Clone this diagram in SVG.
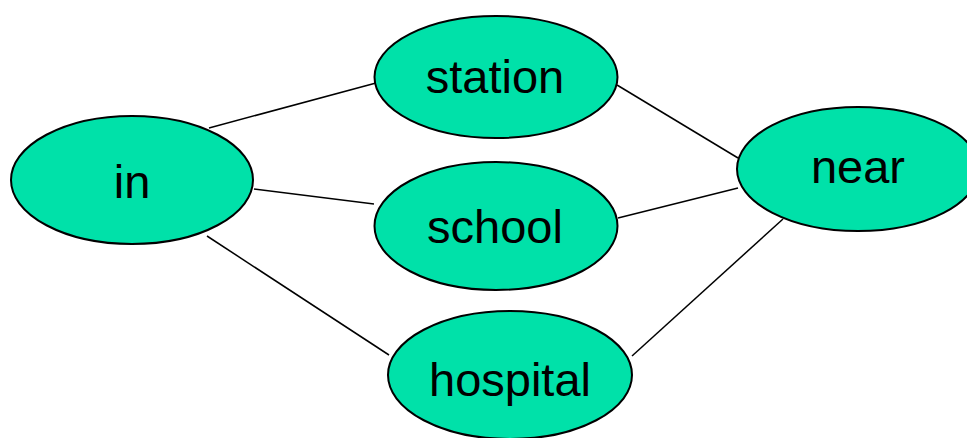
<svg xmlns="http://www.w3.org/2000/svg" width="967" height="438" viewBox="0 0 967 438">
  <style>
    .node ellipse { fill: #00e1a9; stroke: #000; stroke-width: 2; }
    .node text { font-family: "Liberation Sans", Arial, sans-serif; font-size: 47px; fill: #000; text-anchor: middle; }
    .edges line { stroke: #000; stroke-width: 1.5; }
  </style>
  <rect width="967" height="438" fill="#fff"/>
  <g id="edges" class="edges">
    <line x1="209" y1="128" x2="376" y2="83"/>
    <line x1="254" y1="189" x2="374" y2="204"/>
    <line x1="207" y1="236" x2="389" y2="355"/>
    <line x1="617" y1="85" x2="738" y2="158"/>
    <line x1="618" y1="218" x2="738" y2="188"/>
    <line x1="632" y1="356" x2="783" y2="219"/>
  </g>
  <g id="in" class="node">
    <ellipse cx="132" cy="180" rx="121" ry="64"/>
    <text x="132" y="198">in</text>
  </g>
  <g id="station" class="node">
    <ellipse cx="496" cy="77" rx="121.5" ry="61"/>
    <text x="495" y="93">station</text>
  </g>
  <g id="school" class="node">
    <ellipse cx="496" cy="226" rx="121.5" ry="64"/>
    <text x="495" y="243">school</text>
  </g>
  <g id="hospital" class="node">
    <ellipse cx="510" cy="375" rx="122" ry="64"/>
    <text x="510" y="396">hospital</text>
  </g>
  <g id="near" class="node">
    <ellipse cx="858" cy="169" rx="121" ry="62"/>
    <text x="858" y="183">near</text>
  </g>
</svg>
